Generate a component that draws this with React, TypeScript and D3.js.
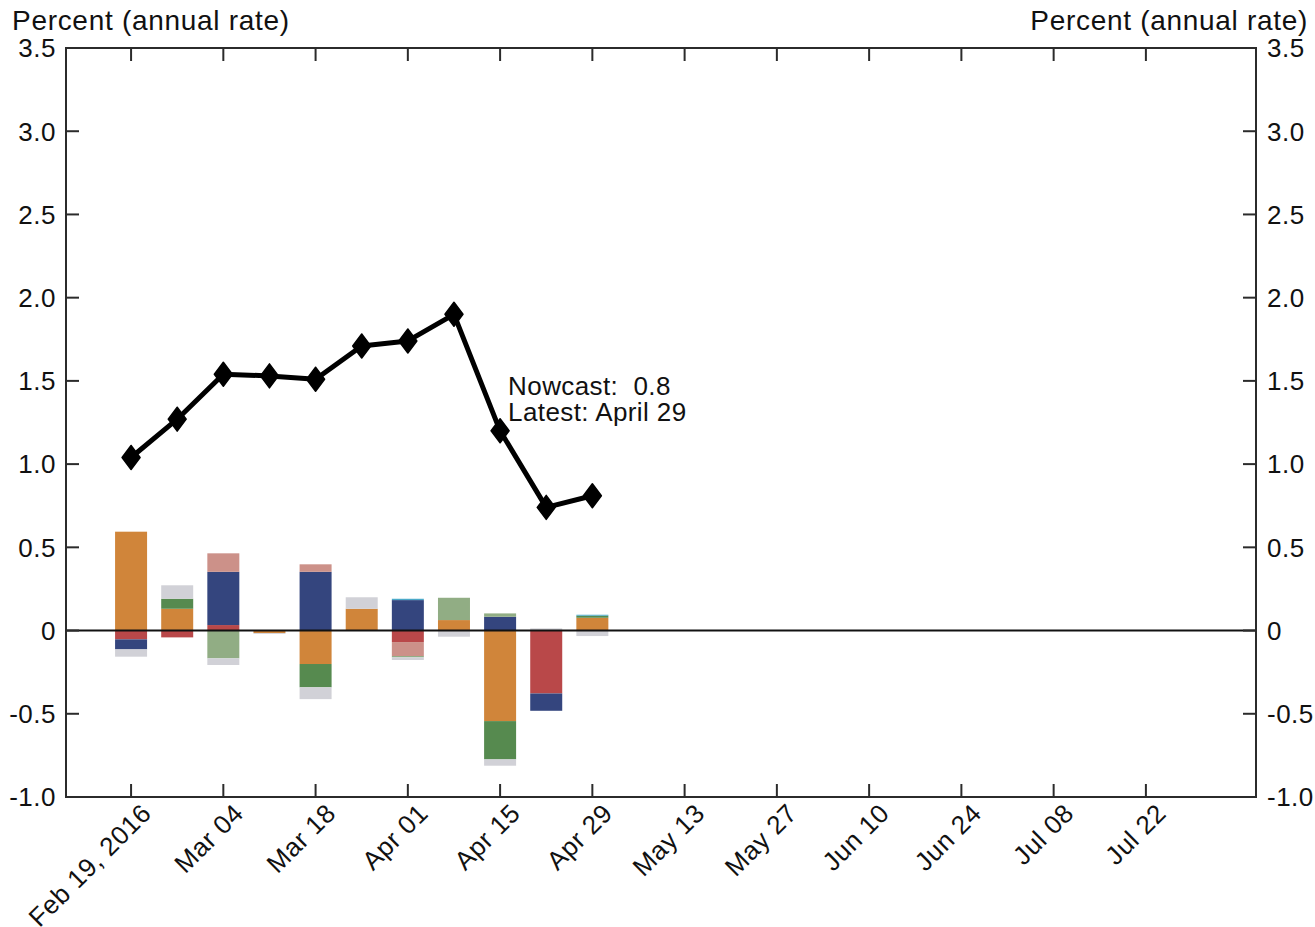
import { useEffect, useRef } from 'react';
import * as d3 from 'd3';

// weekly nowcast dates (Fridays)
const dates = [
  '2016-02-19', '2016-02-26', '2016-03-04', '2016-03-11', '2016-03-18', '2016-03-25',
  '2016-04-01', '2016-04-08', '2016-04-15', '2016-04-22', '2016-04-29',
];

const nowcast = [1.04, 1.27, 1.54, 1.53, 1.51, 1.71, 1.74, 1.9, 1.2, 0.74, 0.81];

// news contributions, stacked in this order
const seriesNames = [
  'Surveys', 'Retail and consumption', 'Manufacturing', 'Income',
  'Labor', 'Housing and construction', 'International trade', 'Others',
];
const seriesColors = [
  '#D0853A', '#B94849', '#34457E', '#CC9189',
  '#568A4F', '#91AD84', '#4BA9C9', '#D1D1D7',
];
const surveys = [0.594, 0.131, 0, -0.015, -0.201, 0.131, 0, 0.063, -0.544, 0, 0.077];
const retail = [-0.053, -0.041, 0.033, 0, 0, 0, -0.069, 0, 0, -0.378, 0];
const manufacturing = [-0.06, 0, 0.32, 0, 0.353, 0, 0.183, 0, 0.083, -0.104, 0];
const income = [0, 0, 0.111, 0, 0.045, 0, -0.084, 0, 0, 0, 0];
const labor = [0, 0.06, 0, 0, -0.14, 0, 0, 0, -0.23, 0, 0.012];
const housing = [0, 0, -0.167, 0, 0, 0, -0.008, 0.134, 0.02, 0, 0];
const trade = [0, 0, 0, 0, 0, 0, 0.008, 0, 0, 0, 0.006];
const others = [-0.044, 0.081, -0.04, -0.005, -0.071, 0.069, -0.016, -0.037, -0.038, 0.013, -0.033];

const seriesValues = [surveys, retail, manufacturing, income, labor, housing, trade, others];

const yTicks = [-1.0, -0.5, 0, 0.5, 1.0, 1.5, 2.0, 2.5, 3.0, 3.5];
const xTickDates = [
  '2016-02-19', '2016-03-04', '2016-03-18', '2016-04-01', '2016-04-15', '2016-04-29',
  '2016-05-13', '2016-05-27', '2016-06-10', '2016-06-24', '2016-07-08', '2016-07-22',
];

const W = 1315;
const H = 927;
const FONT = '"Liberation Sans", Arial, Helvetica, sans-serif';
const AXIS = '#2b2b2b';

const parse = (s: string) => {
  const [y, m, d] = s.split('-').map(Number);
  return new Date(y, m - 1, d);
};

export default function App() {
  const svgRef = useRef<SVGSVGElement>(null);

  useEffect(() => {
    if (!svgRef.current) return;
    const svg = d3.select(svgRef.current);
    svg.selectAll('*').remove();

    const plot = { left: 66, right: 1256, top: 48, bottom: 797 };

    const x = d3
      .scaleTime()
      .domain([new Date(2016, 1, 9, 3), new Date(2016, 7, 7, 17)])
      .range([plot.left, plot.right]);
    const y = d3.scaleLinear().domain([-1, 3.5]).range([plot.bottom, plot.top]);

    const fmtY = (d: number) => (d === 0 ? '0' : d.toFixed(1));

    // stacked contribution bars
    const rows = dates.map((d, i) => {
      const r: Record<string, number | Date> = { date: parse(d) };
      seriesNames.forEach((n, j) => (r[n] = seriesValues[j][i]));
      return r;
    });
    const stack = d3
      .stack<Record<string, number | Date>>()
      .keys(seriesNames)
      .value((d, k) => d[k] as number)
      .order(d3.stackOrderNone)
      .offset(d3.stackOffsetDiverging);
    const layers = stack(rows);
    const barW = 32;

    const gBars = svg.append('g');
    layers.forEach((layer, j) => {
      gBars
        .selectAll(null)
        .data(layer.filter((s) => s[1] - s[0] !== 0))
        .join('rect')
        .attr('x', (s) => x(s.data.date as Date) - barW / 2)
        .attr('width', barW)
        .attr('y', (s) => y(Math.max(s[0], s[1])))
        .attr('height', (s) => Math.abs(y(s[0]) - y(s[1])))
        .attr('fill', seriesColors[j]);
    });

    // zero line
    svg
      .append('line')
      .attr('x1', plot.left)
      .attr('x2', plot.right)
      .attr('y1', y(0))
      .attr('y2', y(0))
      .attr('stroke', '#111')
      .attr('stroke-width', 2);

    // frame
    svg
      .append('rect')
      .attr('x', plot.left)
      .attr('y', plot.top)
      .attr('width', plot.right - plot.left)
      .attr('height', plot.bottom - plot.top)
      .attr('fill', 'none')
      .attr('stroke', AXIS)
      .attr('stroke-width', 2);

    // y ticks both sides
    const tickLen = 13;
    yTicks.forEach((t) => {
      if (t !== -1 && t !== 3.5) {
        svg.append('line')
          .attr('x1', plot.left).attr('x2', plot.left + tickLen)
          .attr('y1', y(t)).attr('y2', y(t))
          .attr('stroke', AXIS).attr('stroke-width', 2);
        svg.append('line')
          .attr('x1', plot.right - tickLen).attr('x2', plot.right)
          .attr('y1', y(t)).attr('y2', y(t))
          .attr('stroke', AXIS).attr('stroke-width', 2);
      }
      svg.append('text')
        .attr('x', plot.left - 10)
        .attr('y', y(t))
        .attr('dy', '0.36em')
        .attr('text-anchor', 'end')
        .attr('font-size', 26)
        .attr('letter-spacing', 0.5)
        .attr('fill', '#111')
        .text(fmtY(t));
      svg.append('text')
        .attr('x', plot.right + 11)
        .attr('y', y(t))
        .attr('dy', '0.36em')
        .attr('text-anchor', 'start')
        .attr('font-size', 26)
        .attr('letter-spacing', 0.5)
        .attr('fill', '#111')
        .text(fmtY(t));
    });

    // x ticks top and bottom
    xTickDates.forEach((s, i) => {
      const tx = x(parse(s));
      svg.append('line')
        .attr('x1', tx).attr('x2', tx)
        .attr('y1', plot.bottom).attr('y2', plot.bottom - tickLen)
        .attr('stroke', AXIS).attr('stroke-width', 2);
      svg.append('line')
        .attr('x1', tx).attr('x2', tx)
        .attr('y1', plot.top).attr('y2', plot.top + tickLen)
        .attr('stroke', AXIS).attr('stroke-width', 2);
      const label = i === 0 ? d3.timeFormat('%b %d, %Y')(parse(s)) : d3.timeFormat('%b %d')(parse(s));
      svg.append('text')
        .attr('transform', `translate(${tx + 8},${plot.bottom + 4}) rotate(-45)`)
        .attr('text-anchor', 'end')
        .attr('dy', '0.75em')
        .attr('font-size', 26)
        .attr('letter-spacing', 0.6)
        .attr('fill', '#111')
        .text(label);
    });

    // nowcast line
    const pts = dates.map((d, i) => [x(parse(d)), y(nowcast[i])] as [number, number]);
    svg.append('path')
      .attr('d', d3.line()(pts))
      .attr('fill', 'none')
      .attr('stroke', '#000')
      .attr('stroke-width', 5)
      .attr('stroke-linejoin', 'round');
    svg.append('g')
      .selectAll('path')
      .data(pts)
      .join('path')
      .attr('transform', (p) => `translate(${p[0]},${p[1]})`)
      .attr('d', 'M0,-12L9,0L0,12L-9,0Z')
      .attr('fill', '#000')
      .attr('stroke', '#000')
      .attr('stroke-width', 1.5)
      .attr('stroke-linejoin', 'round');

    // annotation
    const ax = x(parse('2016-04-15')) + 8;
    const ay = y(1.5) + 14;
    svg.append('text')
      .attr('x', ax).attr('y', ay)
      .attr('font-size', 26).attr('letter-spacing', 0.4).attr('fill', '#111')
      .attr('xml:space', 'preserve')
      .text(`Nowcast:  ${nowcast[nowcast.length - 1].toFixed(1)}`);
    svg.append('text')
      .attr('x', ax).attr('y', ay + 26)
      .attr('font-size', 26).attr('letter-spacing', 0.4).attr('fill', '#111')
      .text('Latest: April 29');

    // unit labels
    svg.append('text')
      .attr('x', 12).attr('y', 30)
      .attr('font-size', 28).attr('letter-spacing', 0.7).attr('fill', '#111')
      .text('Percent (annual rate)');
    svg.append('text')
      .attr('x', 1308).attr('y', 30)
      .attr('text-anchor', 'end')
      .attr('font-size', 28).attr('letter-spacing', 0.7).attr('fill', '#111')
      .text('Percent (annual rate)');
  }, []);

  return (
    <svg
      ref={svgRef}
      width={W}
      height={H}
      style={{ position: 'absolute', left: 0, top: 0, background: '#fff', fontFamily: FONT }}
    />
  );
}
